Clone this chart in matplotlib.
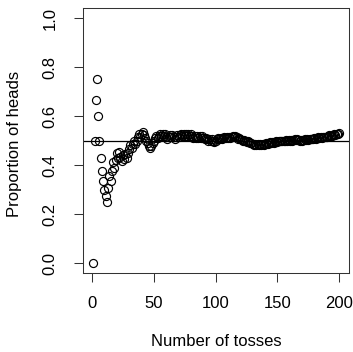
import numpy as np
import matplotlib.pyplot as plt

# coin toss outcomes, 1 = heads, 0 = tails, in blocks of ten
tosses = [
    0, 1, 1, 1, 0, 0, 0, 0, 0, 0,
    0, 0, 1, 1, 0, 1, 1, 0, 1, 1,
    0, 1, 0, 0, 1, 0, 1, 0, 1, 1,
    1, 0, 1, 1, 0, 1, 1, 1, 0, 1,
    1, 0, 0, 0, 0, 0, 0, 1, 1, 1,
    1, 1, 0, 1, 1, 0, 1, 0, 1, 0,
    0, 1, 1, 0, 1, 0, 0, 1, 1, 0,
    1, 1, 0, 1, 0, 1, 0, 1, 0, 1,
    0, 0, 1, 0, 1, 0, 1, 0, 1, 0,
    0, 1, 0, 0, 1, 0, 1, 0, 0, 1,
    1, 1, 0, 1, 0, 1, 1, 0, 1, 0,
    1, 0, 1, 1, 0, 1, 0, 0, 1, 0,
    0, 0, 1, 0, 0, 1, 0, 0, 0, 0,
    0, 1, 0, 1, 0, 1, 0, 1, 0, 1,
    1, 0, 1, 1, 0, 1, 0, 1, 1, 0,
    1, 1, 0, 1, 0, 1, 1, 0, 1, 0,
    1, 0, 1, 1, 0, 1, 0, 0, 1, 0,
    1, 1, 0, 1, 0, 1, 1, 0, 1, 1,
    0, 1, 1, 0, 1, 0, 1, 1, 0, 1,
    1, 1, 0, 1, 1, 1, 0, 1, 1, 1,
]
xticks = [0, 50, 100, 150, 200]
yticks = [0.0, 0.2, 0.4, 0.6, 0.8, 1.0]

# running proportion of heads
n = np.arange(1, len(tosses) + 1)
prop = np.cumsum(tosses) / n

plt.rcParams['font.family'] = ['Liberation Sans', 'DejaVu Sans']

W, H = 353, 352
fig = plt.figure(figsize=(W / 100, H / 100), dpi=100)
ax = fig.add_axes([0.2365, 0.2244, 0.7522, 0.7523])

ax.plot(n, prop, linestyle='None', marker='o', markersize=5.8,
        markerfacecolor='none', markeredgecolor='black', markeredgewidth=0.85)
ax.axhline(0.5, color='black', linewidth=0.9)

ax.set_xlim(-6.96, 207.96)
ax.set_ylim(-0.04, 1.04)
ax.set_xticks(xticks)
ax.set_xticklabels([str(v) for v in xticks])
ax.set_yticks(yticks)
ax.set_yticklabels(['%.1f' % v for v in yticks], rotation=90, va='center')

ax.tick_params(axis='both', direction='out', length=6.5, width=0.75,
               labelsize=12, color='#333333')
ax.tick_params(axis='x', pad=10)
ax.tick_params(axis='y', pad=12)
for s in ax.spines.values():
    s.set_linewidth(0.75)
    s.set_color('#333333')

# axis titles placed in figure coordinates
fig.text(216.7 / W, 1 - 341.7 / H, 'Number of tosses',
         ha='center', va='center', fontsize=12)
fig.text(15 / W, 1 - 144 / H, 'Proportion of heads', rotation=90,
         ha='center', va='center', fontsize=12)

fig.savefig('out.png', dpi=100)
